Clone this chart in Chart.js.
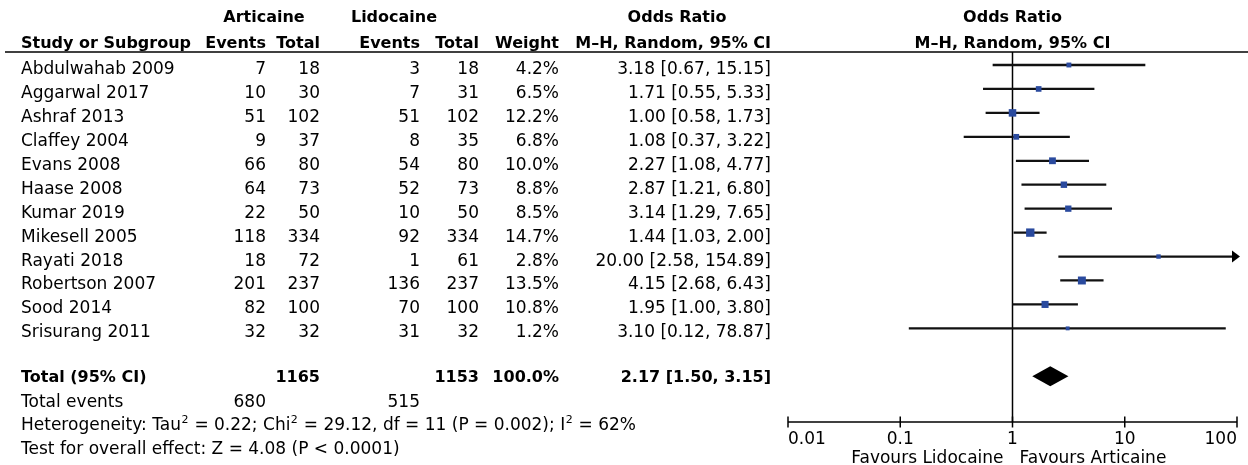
<!DOCTYPE html>
<html>
<head>
<meta charset="utf-8">
<title>Articaine vs Lidocaine – Odds Ratio</title>
<script src="https://cdn.jsdelivr.net/npm/chart.js@4/dist/chart.umd.min.js"></script>
<style>
  html, body { margin: 0; padding: 0; background: #fff; }
  #wrap { width: 1248px; height: 465px; }
</style>
</head>
<body>
<div id="wrap"><canvas id="forest" width="1248" height="465"></canvas></div>
<script>
// ---- study data ----
const studies = ['Abdulwahab 2009', 'Aggarwal 2017', 'Ashraf 2013', 'Claffey 2004', 'Evans 2008', 'Haase 2008',
                 'Kumar 2019', 'Mikesell 2005', 'Rayati 2018', 'Robertson 2007', 'Sood 2014', 'Srisurang 2011'];
const articaineEvents = [7, 10, 51, 9, 66, 64, 22, 118, 18, 201, 82, 32];
const articaineTotal  = [18, 30, 102, 37, 80, 73, 50, 334, 72, 237, 100, 32];
const lidocaineEvents = [3, 7, 51, 8, 54, 52, 10, 92, 1, 136, 70, 31];
const lidocaineTotal  = [18, 31, 102, 35, 80, 73, 50, 334, 61, 237, 100, 32];
const weights   = [4.2, 6.5, 12.2, 6.8, 10.0, 8.8, 8.5, 14.7, 2.8, 13.5, 10.8, 1.2];
const oddsRatio = [3.18, 1.71, 1.00, 1.08, 2.27, 2.87, 3.14, 1.44, 20.00, 4.15, 1.95, 3.10];
const ciLower   = [0.67, 0.55, 0.58, 0.37, 1.08, 1.21, 1.29, 1.03, 2.58, 2.68, 1.00, 0.12];
const ciUpper   = [15.15, 5.33, 1.73, 3.22, 4.77, 6.80, 7.65, 2.00, 154.89, 6.43, 3.80, 78.87];

// ---- pooled result ----
const pooledOR = 2.17, pooledLower = 1.50, pooledUpper = 3.15;
const pooledWeight = 100.0;
const totalArticaine = 1165, totalLidocaine = 1153;
const eventsArticaine = 680, eventsLidocaine = 515;
const tau2 = 0.22, chi2 = 29.12, df = 11, pHet = '0.002', i2 = 62;
const zOverall = 4.08, pOverall = '< 0.0001';

// ---- axis ----
const axisTicks = [0.01, 0.1, 1, 10, 100];
const axisTickLabels = ['0.01', '0.1', '1', '10', '100'];
const favoursLeft = 'Favours Lidocaine', favoursRight = 'Favours Articaine';

// row indices (y scale units)
const ROW_TOTAL = studies.length + 1;
const ROW_EVENTS = ROW_TOTAL + 1;
const ROW_HET = ROW_TOTAL + 2;
const ROW_TEST = ROW_TOTAL + 3;

const FONT = '"DejaVu Sans", Verdana, sans-serif';
const FS = 17;
const regular = FS + 'px ' + FONT;
const bold = 'bold 16px ' + FONT;

// table column anchors (right edges of numeric columns)
const COL = { study: 21, artEv: 266, artTot: 320, lidEv: 420, lidTot: 479, weight: 559, ci: 771 };

const fmtCI = (m, l, u) => m.toFixed(2) + ' [' + l.toFixed(2) + ', ' + u.toFixed(2) + ']';

// square marker side grows with the study weight
function squareRadius(w) {
  const side = 3.5 + 0.33 * w;
  return side / Math.SQRT2;
}

function text(ctx, s, x, y, align, font) {
  ctx.font = font || regular;
  ctx.textAlign = align || 'left';
  ctx.textBaseline = 'alphabetic';
  ctx.fillText(s, x, y);
}

function richText(ctx, parts, x, y) {
  let cx = x;
  ctx.textAlign = 'left';
  ctx.textBaseline = 'alphabetic';
  for (const [s, sup] of parts) {
    if (sup) {
      ctx.font = '11px ' + FONT;
      ctx.fillText(s, cx + 0.5, y - 7);
    } else {
      ctx.font = regular;
      ctx.fillText(s, cx, y);
    }
    cx += ctx.measureText(s).width + (sup ? 1 : 0);
  }
}

const forestDecor = {
  id: 'forestDecor',
  beforeDatasetsDraw(chart) {
    const { ctx, chartArea, scales: { x, y } } = chart;
    ctx.save();
    ctx.strokeStyle = '#000';
    ctx.lineWidth = 1.5;
    // header rule
    ctx.beginPath();
    ctx.moveTo(5, chartArea.top);
    ctx.lineTo(1248, chartArea.top);
    ctx.stroke();
    // line of no effect
    const x1 = x.getPixelForValue(1);
    ctx.beginPath();
    ctx.moveTo(x1, chartArea.top);
    ctx.lineTo(x1, chartArea.bottom);
    ctx.stroke();
    // log axis
    ctx.beginPath();
    ctx.moveTo(x.getPixelForValue(axisTicks[0]), chartArea.bottom);
    ctx.lineTo(x.getPixelForValue(axisTicks[axisTicks.length - 1]), chartArea.bottom);
    ctx.stroke();
    ctx.fillStyle = '#000';
    axisTicks.forEach((t, i) => {
      const px = x.getPixelForValue(t);
      ctx.beginPath();
      ctx.moveTo(px, chartArea.bottom - 5.5);
      ctx.lineTo(px, chartArea.bottom + 5.5);
      ctx.stroke();
      const align = i === 0 ? 'left' : (i === axisTicks.length - 1 ? 'right' : 'center');
      text(ctx, axisTickLabels[i], px, chartArea.bottom + 22, align);
    });
    text(ctx, favoursLeft, x1 - 9, chartArea.bottom + 41, 'right');
    text(ctx, favoursRight, x1 + 7, chartArea.bottom + 41, 'left');
    ctx.restore();
  },
  afterDatasetsDraw(chart) {
    const { ctx, chartArea, scales: { x, y } } = chart;
    ctx.save();
    ctx.fillStyle = '#000';
    // arrows for intervals running past the axis
    studies.forEach((s, i) => {
      const py = y.getPixelForValue(i);
      if (ciUpper[i] > x.max) {
        const px = x.getPixelForValue(x.max) + 3;
        ctx.beginPath();
        ctx.moveTo(px, py);
        ctx.lineTo(px - 8, py - 6);
        ctx.lineTo(px - 8, py + 6);
        ctx.closePath();
        ctx.fill();
      }
      if (ciLower[i] < x.min) {
        const px = x.getPixelForValue(x.min) - 3;
        ctx.beginPath();
        ctx.moveTo(px, py);
        ctx.lineTo(px + 8, py - 6);
        ctx.lineTo(px + 8, py + 6);
        ctx.closePath();
        ctx.fill();
      }
    });
    // pooled diamond
    const dy = y.getPixelForValue(ROW_TOTAL);
    ctx.beginPath();
    ctx.moveTo(x.getPixelForValue(pooledLower), dy);
    ctx.lineTo(x.getPixelForValue(pooledOR), dy - 10);
    ctx.lineTo(x.getPixelForValue(pooledUpper), dy);
    ctx.lineTo(x.getPixelForValue(pooledOR), dy + 10);
    ctx.closePath();
    ctx.fill();

    // ---- table ----
    const ty = (r, d) => y.getPixelForValue(r) + d;
    // headers
    text(ctx, 'Articaine', 264, ty(-2, 5), 'center', bold);
    text(ctx, 'Lidocaine', 394, ty(-2, 5), 'center', bold);
    text(ctx, 'Odds Ratio', 677, ty(-2, 5), 'center', bold);
    const h2 = ty(-1, 7);
    text(ctx, 'Study or Subgroup', COL.study, h2, 'left', bold);
    text(ctx, 'Events', COL.artEv, h2, 'right', bold);
    text(ctx, 'Total', COL.artTot, h2, 'right', bold);
    text(ctx, 'Events', COL.lidEv, h2, 'right', bold);
    text(ctx, 'Total', COL.lidTot, h2, 'right', bold);
    text(ctx, 'Weight', COL.weight, h2, 'right', bold);
    text(ctx, 'M–H, Random, 95% CI', COL.ci, h2, 'right', bold);
    const xc = (chartArea.left + chartArea.right) / 2;
    text(ctx, 'Odds Ratio', xc, ty(-2, 5), 'center', bold);
    text(ctx, 'M–H, Random, 95% CI', xc, h2, 'center', bold);

    // study rows
    studies.forEach((s, i) => {
      const yy = ty(i, 9);
      text(ctx, s, COL.study, yy, 'left');
      text(ctx, String(articaineEvents[i]), COL.artEv, yy, 'right');
      text(ctx, String(articaineTotal[i]), COL.artTot, yy, 'right');
      text(ctx, String(lidocaineEvents[i]), COL.lidEv, yy, 'right');
      text(ctx, String(lidocaineTotal[i]), COL.lidTot, yy, 'right');
      text(ctx, weights[i].toFixed(1) + '%', COL.weight, yy, 'right');
      text(ctx, fmtCI(oddsRatio[i], ciLower[i], ciUpper[i]), COL.ci, yy, 'right');
    });

    // totals
    const yt = ty(ROW_TOTAL, 6);
    text(ctx, 'Total (95% CI)', COL.study, yt, 'left', bold);
    text(ctx, String(totalArticaine), COL.artTot, yt, 'right', bold);
    text(ctx, String(totalLidocaine), COL.lidTot, yt, 'right', bold);
    text(ctx, pooledWeight.toFixed(1) + '%', COL.weight, yt, 'right', bold);
    text(ctx, fmtCI(pooledOR, pooledLower, pooledUpper), COL.ci, yt, 'right', bold);
    const ye = ty(ROW_EVENTS, 7);
    text(ctx, 'Total events', COL.study, ye, 'left');
    text(ctx, String(eventsArticaine), COL.artEv, ye, 'right');
    text(ctx, String(eventsLidocaine), COL.lidEv, ye, 'right');
    richText(ctx, [
      ['Heterogeneity: Tau'], ['2', true], [' = ' + tau2.toFixed(2) + '; Chi'], ['2', true],
      [' = ' + chi2.toFixed(2) + ', df = ' + df + ' (P = ' + pHet + '); I'], ['2', true], [' = ' + i2 + '%']
    ], COL.study, ty(ROW_HET, 6));
    text(ctx, 'Test for overall effect: Z = ' + zOverall.toFixed(2) + ' (P ' + pOverall + ')', COL.study, ty(ROW_TEST, 6), 'left');
    ctx.restore();
  }
};

new Chart(document.getElementById('forest'), {
  type: 'bar',
  data: {
    datasets: [
      {
        label: '95% CI',
        data: studies.map((s, i) => ({ y: i, x: [ciLower[i], ciUpper[i]] })),
        backgroundColor: '#111',
        borderWidth: 0,
        barThickness: 1.6,
        order: 2
      },
      {
        type: 'scatter',
        label: 'Odds ratio',
        data: studies.map((s, i) => ({ x: oddsRatio[i], y: i })),
        pointStyle: 'rect',
        pointRadius: ctx => squareRadius(weights[ctx.dataIndex]),
        backgroundColor: '#2a4a9e',
        borderWidth: 0,
        order: 1
      }
    ]
  },
  options: {
    indexAxis: 'y',
    responsive: false,
    animation: false,
    devicePixelRatio: 1,
    layout: { padding: { left: 788, right: 11, top: 52, bottom: 43 } },
    plugins: { legend: { display: false }, tooltip: { enabled: false } },
    scales: {
      x: { type: 'logarithmic', min: 0.01, max: 100, display: false },
      y: { type: 'linear', min: -0.543, max: 14.91, reverse: true, offset: false, display: false }
    }
  },
  plugins: [forestDecor]
});
</script>
</body>
</html>
